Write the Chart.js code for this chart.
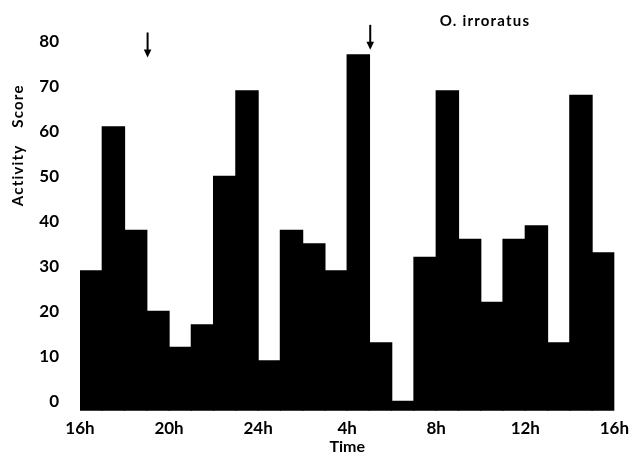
<!DOCTYPE html>
<html>
<head>
<meta charset="utf-8">
<title>O. irroratus activity</title>
<script src="https://cdn.jsdelivr.net/npm/chart.js@4/dist/chart.umd.min.js"></script>
<style>
  html, body { margin: 0; padding: 0; background: #fff; }
  canvas { display: block; }
</style>
</head>
<body>
<canvas id="activityChart" width="637" height="457"></canvas>
<script>
// One bar per clock hour, starting at 16h and running round to 15h
const startHours = [16, 17, 18, 19, 20, 21, 22, 23, 0, 1, 2, 3, 4, 5, 6, 7, 8, 9, 10, 11, 12, 13, 14, 15];
const activity   = [29, 61, 38, 20, 12, 17, 50, 69, 9, 38, 35, 29, 77, 13, 0, 32, 69, 36, 22, 36, 39, 13, 68, 33];

// Time axis: hours elapsed since 16h, labelled every four hours
const tickHours  = [0, 4, 8, 12, 16, 20, 24];
const tickLabels = ['16h', '20h', '24h', '4h', '8h', '12h', '16h'];
const yTicks     = [0, 10, 20, 30, 40, 50, 60, 70, 80];

// Sunset (19h) and sunrise (5h) markers, as hours after 16h, and the score each tip reaches
const arrowHours = [3, 13];
const arrowTips  = [76.4, 78.1];

const speciesName = 'O. irroratus';
const yTitle = 'Activity Score';
const xTitle = 'Time';

const FONT = 'Lato, "DejaVu Sans", sans-serif';
Chart.defaults.font.family = FONT;
Chart.defaults.color = '#000';

// Elapsed hours since 16h for a given clock hour
const hoursSince16 = h => (h - 16 + 24) % 24;

// Arrows, species name and the vertical axis caption
const annotations = {
  id: 'annotations',
  afterDraw(chart) {
    const { ctx, chartArea, scales: { x, y } } = chart;
    ctx.save();
    ctx.fillStyle = '#000';
    ctx.strokeStyle = '#000';

    arrowHours.forEach((h, i) => {
      const px = x.getPixelForValue(h) + 0.8;
      const tip = y.getPixelForValue(arrowTips[i]);
      const len = 25, headLen = 8, headHalf = 3.8;
      ctx.lineWidth = 2;
      ctx.beginPath();
      ctx.moveTo(px, tip - len);
      ctx.lineTo(px, tip - headLen + 1);
      ctx.stroke();
      ctx.beginPath();
      ctx.moveTo(px - headHalf, tip - headLen);
      ctx.lineTo(px + headHalf, tip - headLen);
      ctx.lineTo(px, tip);
      ctx.closePath();
      ctx.fill();
    });

    ctx.font = 'bold 15px ' + FONT;
    ctx.letterSpacing = '1.2px';
    ctx.textAlign = 'center';
    ctx.textBaseline = 'middle';
    ctx.fillText(speciesName, chartArea.left + 405, 21);

    ctx.translate(18, chartArea.top + 104);
    ctx.rotate(-Math.PI / 2);
    ctx.font = 'bold 15px ' + FONT;
    ctx.letterSpacing = '1.2px';
    ctx.wordSpacing = '12px';
    ctx.fillText(yTitle, 0, 0);
    ctx.restore();
  }
};

new Chart(document.getElementById('activityChart'), {
  type: 'bar',
  data: {
    datasets: [{
      data: startHours.map((h, i) => ({ x: hoursSince16(h) + 0.5, y: activity[i] })),
      backgroundColor: '#000',
      borderWidth: 0,
      barPercentage: 1,
      categoryPercentage: 1,
      inflateAmount: 0.6,
      base: -2.1
    }]
  },
  options: {
    responsive: false,
    animation: false,
    devicePixelRatio: 1,
    layout: { padding: { top: 41.3, right: 17, bottom: 0, left: 0 } },
    plugins: {
      legend: { display: false },
      tooltip: { enabled: false },
      title: { display: false }
    },
    scales: {
      x: {
        type: 'linear',
        min: 0,
        max: 24,
        offset: false,
        grid: { display: false, drawTicks: false },
        border: { display: false },
        afterBuildTicks: s => { s.ticks = tickHours.map(v => ({ value: v })); },
        afterFit: s => { s.height = 46.3; },
        ticks: {
          autoSkip: false,
          maxRotation: 0,
          padding: 8,
          font: { size: 17, weight: 'bold' },
          callback: (v, i) => tickLabels[i]
        },
        title: {
          display: true,
          text: xTitle,
          font: { size: 16, weight: 'bold' },
          padding: { top: 0, bottom: 1 }
        }
      },
      y: {
        type: 'linear',
        min: -2.1,
        max: 80,
        grid: { display: false, drawTicks: false },
        border: { display: false },
        afterBuildTicks: s => { s.ticks = yTicks.map(v => ({ value: v })); },
        afterFit: s => { s.width = 80; },
        ticks: {
          padding: 21,
          font: { size: 17, weight: 'bold' }
        }
      }
    }
  },
  plugins: [annotations]
});
</script>
</body>
</html>
